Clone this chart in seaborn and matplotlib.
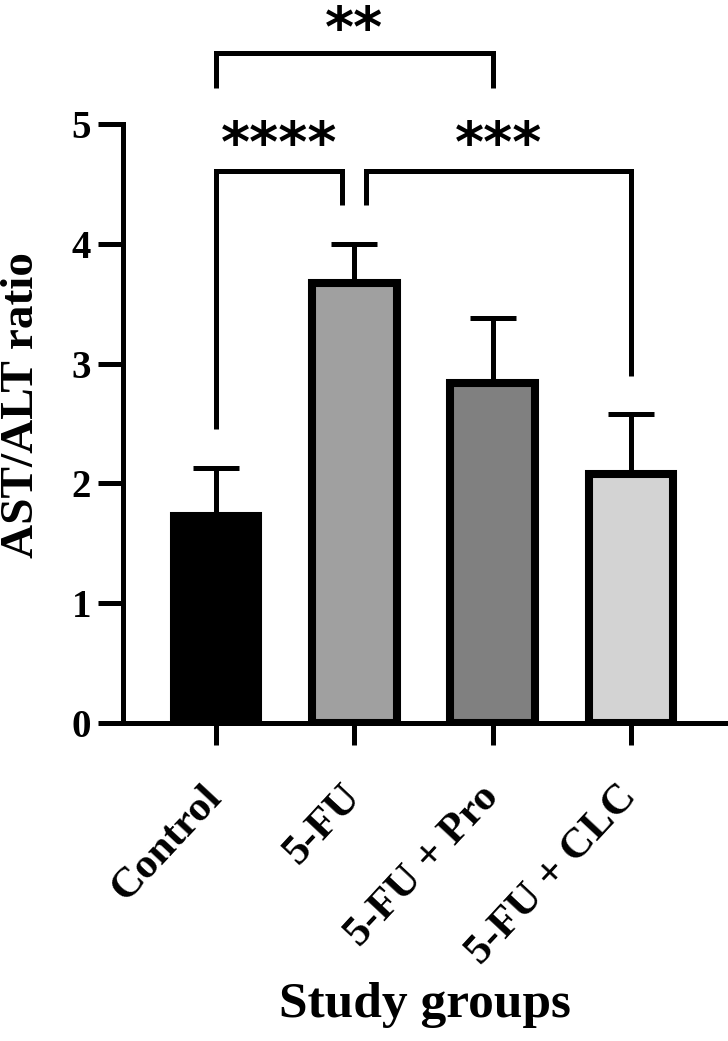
import matplotlib
matplotlib.use("Agg")
import matplotlib.pyplot as plt
import seaborn as sns
import pandas as pd
import numpy as np

# ---- data ----
groups = ["Control", "5-FU", "5-FU + Pro", "5-FU + CLC"]
means = [1.73, 3.67, 2.84, 2.08]
sds = [0.40, 0.33, 0.54, 0.50]
colors = ["#000000", "#a0a0a0", "#808080", "#d3d3d3"]
yticks = [0, 1, 2, 3, 4, 5]
comp_labels = ["**", "****", "***"]

sns.set_theme(style="white")
plt.rcParams["font.family"] = ["Liberation Serif", "DejaVu Serif"]
plt.rcParams["font.weight"] = "bold"
for k in ["text.color", "axes.labelcolor", "xtick.color", "ytick.color",
          "axes.edgecolor"]:
    plt.rcParams[k] = "black"

df = pd.DataFrame({"group": groups, "mean": means, "sd": sds})

fig = plt.figure(figsize=(7.28, 10.41), dpi=100)
ax = fig.add_axes([123 / 728, 1 - 723 / 1041, 603 / 728, (723 - 124) / 1041])

sns.barplot(data=df, x="group", y="mean", hue="group", palette=colors,
            order=groups, hue_order=groups, width=0.61, errorbar=None,
            edgecolor="black", linewidth=5.8, legend=False, ax=ax, zorder=3)

xpos = np.arange(len(groups))
ax.errorbar(xpos, means, yerr=[np.zeros(len(sds)), sds], fmt="none",
            ecolor="black", elinewidth=3.6, capsize=16.5, capthick=3.6, zorder=2)

ax.set_xlim(-0.675, 3.69)
ax.set_ylim(0, 5)
ax.set_yticks(yticks)
ax.set_yticklabels([str(t) for t in yticks], fontsize=28, fontweight="bold",
                   color="black")
ax.set_xticks(xpos)
ax.set_xticklabels(groups, fontsize=31, fontweight="bold", rotation=47,
                   ha="right", va="center", rotation_mode="anchor",
                   color="black")
ax.tick_params(axis="y", length=18, width=3.6, direction="out", pad=5,
               left=True, colors="black")
ax.tick_params(axis="x", length=16, width=3.6, direction="out", pad=33,
               bottom=True, colors="black")
for s in ["top", "right"]:
    ax.spines[s].set_visible(False)
for s in ["left", "bottom"]:
    ax.spines[s].set_linewidth(3.6)
    ax.spines[s].set_color("black")
ax.set_xlabel("Study groups", fontsize=37, fontweight="bold", va="center",
              color="black")
ax.xaxis.set_label_coords(0.5, -0.47)
ax.set_ylabel("AST/ALT ratio", fontsize=34, fontweight="bold", va="center",
              color="black")
ax.yaxis.set_label_coords(-0.167, 0.531)

# ---- significance brackets ----
lw = 3.6
kw = dict(color="black", lw=lw, clip_on=False, solid_joinstyle="miter",
          solid_capstyle="butt")
# Control vs 5-FU + Pro
ax.plot([0, 0, 2, 2], [5.30, 5.59, 5.59, 5.30], **kw)
# Control vs 5-FU
ax.plot([0, 0, 0.91, 0.91], [2.45, 4.61, 4.61, 4.32], **kw)
# 5-FU vs 5-FU + CLC
ax.plot([1.085, 1.085, 3, 3], [4.32, 4.61, 4.61, 2.90], **kw)

star_kw = dict(ha="center", va="baseline", fontsize=40, fontweight="bold",
               family="DejaVu Sans", clip_on=False, color="black")
ax.text(1.0, 5.65, comp_labels[0], **star_kw)
ax.text(0.455, 4.69, comp_labels[1], **star_kw)
ax.text(2.04, 4.69, comp_labels[2], **star_kw)

fig.savefig("out.png", dpi=100, facecolor="white")
